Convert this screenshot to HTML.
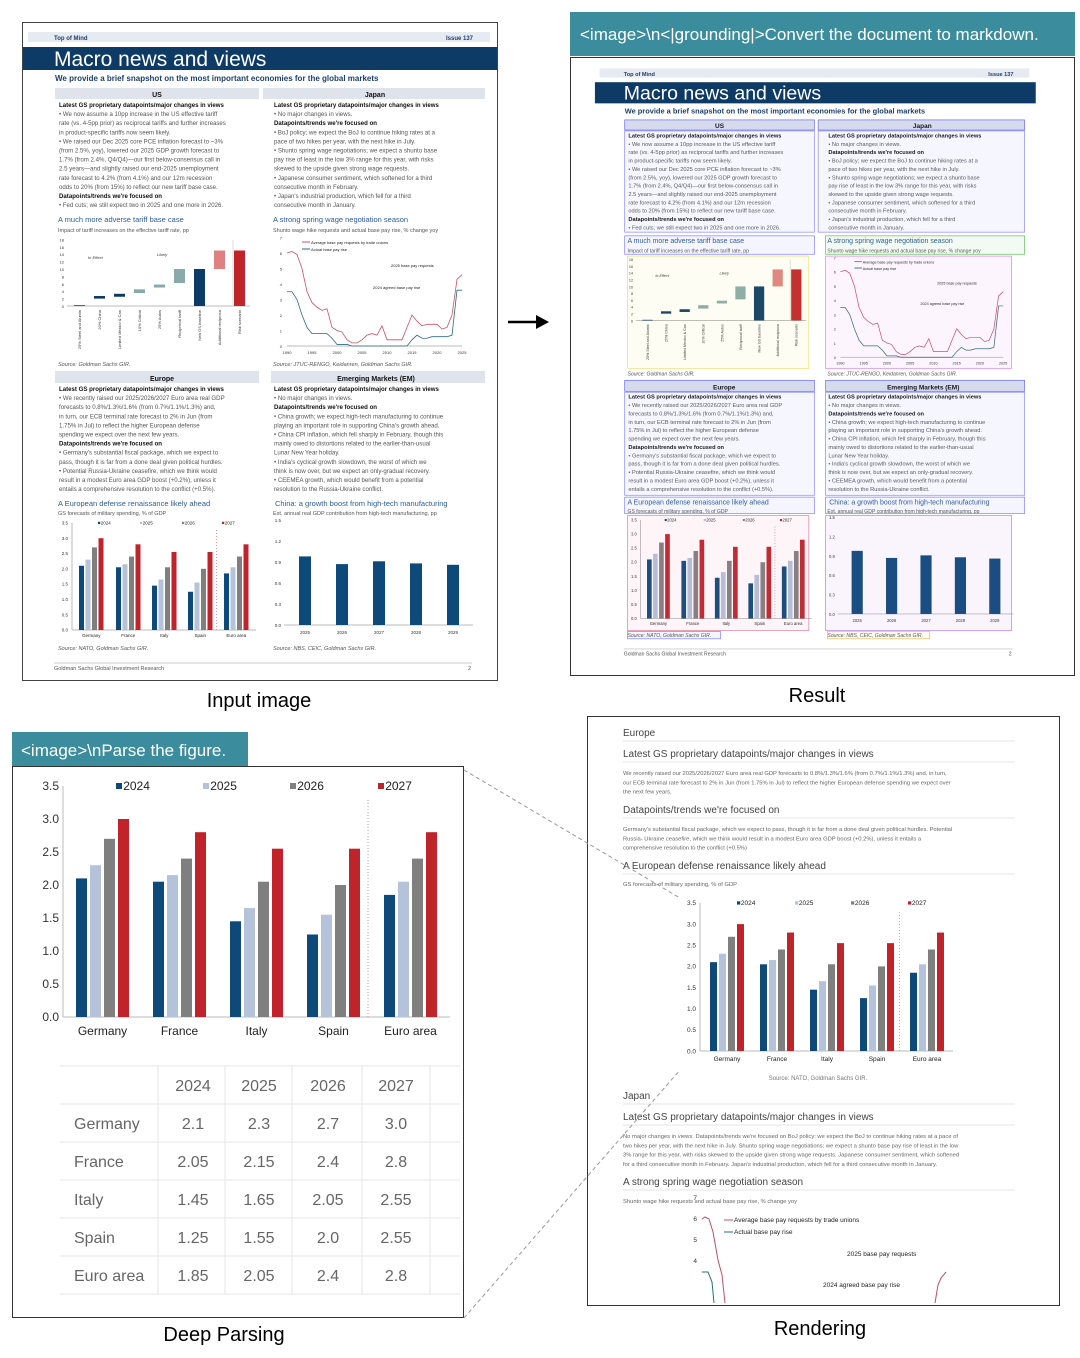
<!DOCTYPE html>
<html><head><meta charset="utf-8"><style>
html,body{margin:0;padding:0;background:#fff;width:1080px;height:1358px;overflow:hidden}
svg{display:block;font-family:"Liberation Sans",sans-serif}
</style></head><body>
<svg id="s" width="1080" height="1358" viewBox="0 0 1080 1358" xmlns="http://www.w3.org/2000/svg">
<g id="doc">
<rect x="22.5" y="22.5" width="475" height="658" fill="#fff" stroke="#444"/>
<rect x="28" y="32" width="462" height="10" fill="#e6eaf1"/>
<text x="54" y="40" font-size="6" font-weight="bold" fill="#1d3f6b">Top of Mind</text>
<text x="446" y="40" font-size="6" font-weight="bold" fill="#1d3f6b">Issue 137</text>
<rect x="23" y="47" width="474" height="23" fill="#0e3a66"/>
<text x="54" y="66" font-size="21" fill="#fff">Macro news and views</text>
<text x="55" y="81" font-size="8" font-weight="bold" fill="#1d3f6b">We provide a brief snapshot on the most important economies for the global markets</text>
<rect x="55" y="88" width="204" height="11" fill="#dfe4ec"/><rect x="263" y="88" width="222" height="11" fill="#dfe4ec"/>
<rect x="55" y="371" width="204" height="12" fill="#dfe4ec"/><rect x="271" y="371" width="214" height="12" fill="#dfe4ec"/>
<g font-size="7" font-weight="bold" fill="#111" text-anchor="middle"><text x="157" y="97">US</text><text x="375" y="97">Japan</text><text x="162" y="381">Europe</text><text x="376" y="381">Emerging Markets (EM)</text></g>
<g id="txt" font-size="6.1" fill="#555"></g>
<g font-size="7.5" fill="#2a5d9a"><text x="58" y="222">A much more adverse tariff base case</text><text x="273" y="222">A strong spring wage negotiation season</text><text x="58" y="506">A European defense renaissance likely ahead</text><text x="275" y="506">China: a growth boost from high-tech manufacturing</text></g>
<g font-size="5.5" fill="#555"><text x="58" y="232">Impact of tariff increases on the effective tariff rate, pp</text><text x="273" y="232">Shunto wage hike requests and actual base pay rise, % change yoy</text><text x="58" y="515">GS forecasts of military spending, % of GDP</text><text x="273" y="515">Est. annual real GDP contribution from high-tech manufacturing, pp</text>
<text x="58" y="366" font-style="italic">Source: Goldman Sachs GIR.</text><text x="273" y="366" font-style="italic">Source: JTUC-RENGO, Keidanren, Goldman Sachs GIR.</text>
<text x="58" y="650" font-style="italic">Source: NATO, Goldman Sachs GIR.</text><text x="273" y="650" font-style="italic">Source: NBS, CEIC, Goldman Sachs GIR.</text>
<text x="54" y="670">Goldman Sachs Global Investment Research</text><text x="468" y="670">2</text></g>
<line x1="54" y1="663" x2="472" y2="663" stroke="#ccc"/>
<g id="charts"></g>
</g>
<g id="clonehere"></g>
<rect x="570.5" y="57.5" width="504" height="618" fill="none" stroke="#333"/>
<rect x="570" y="12" width="505" height="44" fill="#3b8c9c"/>
<text x="580" y="40" font-size="17" fill="#fff">&lt;image&gt;\n&lt;|grounding|&gt;Convert the document to markdown.</text>
<line x1="508" y1="322" x2="540" y2="322" stroke="#000" stroke-width="2.5"/><path d="M536 315 L549 322 L536 329 Z" fill="#000"/>
<g font-size="20" fill="#000" text-anchor="middle"><text x="259" y="707">Input image</text><text x="817" y="702">Result</text><text x="224" y="1341">Deep Parsing</text><text x="820" y="1335">Rendering</text></g>
<rect x="12" y="732" width="236" height="34" fill="#3b8c9c"/>
<text x="21" y="756" font-size="17" fill="#fff">&lt;image&gt;\nParse the figure.</text>
<rect x="12.5" y="766.5" width="451" height="551" fill="none" stroke="#333"/>
<g id="big"></g>
<rect x="587.5" y="716.5" width="472" height="589" fill="#fff" stroke="#333"/>
<g id="rend"></g>
<g stroke="#999" stroke-dasharray="4,3" fill="none"><line x1="464" y1="770" x2="680" y2="898"/><line x1="464" y1="1318" x2="680" y2="1070"/></g>
</svg>
<script>
const NS="http://www.w3.org/2000/svg";
function el(p,t,a,txt){const e=document.createElementNS(NS,t);for(const k in a)e.setAttribute(k,a[k]);if(txt!=null)e.textContent=txt;p.appendChild(e);return e;}
const C=["#0d4a7a","#b4c3d9","#7f7f7f","#c1232b"];
const D=[[2.1,2.3,2.7,3.0],[2.05,2.15,2.4,2.8],[1.45,1.65,2.05,2.55],[1.25,1.55,2.0,2.55],[1.85,2.05,2.4,2.8]];
const N=["Germany","France","Italy","Spain","Euro area"];
function gchart(g,o){
 for(let i=0;i<=7;i++){const v=i*0.5,y=o.y0-v*o.unit;el(g,"text",{x:o.axL-4,y:y+o.fs*0.35,"font-size":o.fs,"text-anchor":"end",fill:"#333"},v.toFixed(1));}
 el(g,"line",{x1:o.axL,y1:o.y0,x2:o.axR,y2:o.y0,stroke:"#bbb"});
 el(g,"line",{x1:o.axL,y1:o.y0,x2:o.axL,y2:o.y0-3.5*o.unit,stroke:"#bbb"});
 const dv=(o.gx[3]+o.gx[4])/2+o.pitch*2-o.w/2;
 el(g,"line",{x1:dv,y1:o.y0,x2:dv,y2:o.y0-3.3*o.unit,stroke:"#d99","stroke-dasharray":"1,2"});
 D.forEach((r,i)=>{r.forEach((v,j)=>el(g,"rect",{x:o.gx[i]+j*o.pitch,y:o.y0-v*o.unit,width:o.w,height:v*o.unit,fill:C[j]}));
  el(g,"text",{x:o.gx[i]+1.5*o.pitch+o.w/2,y:o.y0+o.fs*1.5,"font-size":o.fs,"text-anchor":"middle",fill:"#222"},N[i]);});
 const ly=o.y0-3.5*o.unit+o.fs*0.35;
 ["2024","2025","2026","2027"].forEach((t,j)=>{const lx=o.lx[j];el(g,"rect",{x:lx,y:ly-o.fs*0.6,width:o.fs*0.5,height:o.fs*0.5,fill:C[j]});el(g,"text",{x:lx+o.fs*0.6,y:ly,"font-size":o.fs,fill:"#222"},t);});
}
const tx=document.getElementById("txt");
function lines(x,y,arr){arr.forEach((t,i)=>{const b=t.startsWith("*");el(tx,"text",{x:x,y:y+i*9.1,"font-weight":b?"bold":"normal",fill:b?"#111":"#555"},b?t.slice(1):t);});}
lines(59,107,["*Latest GS proprietary datapoints/major changes in views","•  We now assume a 10pp increase in the US effective tariff","    rate (vs. 4-5pp prior) as reciprocal tariffs and further increases","    in product-specific tariffs now seem likely.","•  We raised our Dec 2025 core PCE inflation forecast to ~3%","    (from 2.5%, yoy), lowered our 2025 GDP growth forecast to","    1.7% (from 2.4%, Q4/Q4)—our first below-consensus call in","    2.5 years—and slightly raised our end-2025 unemployment","    rate forecast to 4.2% (from 4.1%) and our 12m recession","    odds to 20% (from 15%) to reflect our new tariff base case.","*Datapoints/trends we're focused on","•  Fed cuts; we still expect two in 2025 and one more in 2026."]);
lines(274,107,["*Latest GS proprietary datapoints/major changes in views","•  No major changes in views.","*Datapoints/trends we're focused on","•  BoJ policy; we expect the BoJ to continue hiking rates at a","    pace of two hikes per year, with the next hike in July.","•  Shunto spring wage negotiations; we expect a shunto base","    pay rise of least in the low 3% range for this year, with risks","    skewed to the upside given strong wage requests.","•  Japanese consumer sentiment, which softened for a third","    consecutive month in February.","•  Japan's industrial production, which fell for a third","    consecutive month in January."]);
lines(59,391,["*Latest GS proprietary datapoints/major changes in views","•  We recently raised our 2025/2026/2027 Euro area real GDP","    forecasts to 0.8%/1.3%/1.6% (from 0.7%/1.1%/1.3%) and,","    in turn, our ECB terminal rate forecast to 2% in Jun (from","    1.75% in Jul) to reflect the higher European defense","    spending we expect over the next few years.","*Datapoints/trends we're focused on","•  Germany's substantial fiscal package, which we expect to","    pass, though it is far from a done deal given political hurdles.","•  Potential Russia-Ukraine ceasefire, which we think would","    result in a modest Euro area GDP boost (+0.2%), unless it","    entails a comprehensive resolution to the conflict (+0.5%)."]);
lines(274,391,["*Latest GS proprietary datapoints/major changes in views","•  No major changes in views.","*Datapoints/trends we're focused on","•  China growth; we expect high-tech manufacturing to continue","    playing an important role in supporting China's growth ahead.","•  China CPI inflation, which fell sharply in February, though this","    mainly owed to distortions related to the earlier-than-usual","    Lunar New Year holiday.","•  India's cyclical growth slowdown, the worst of which we","    think is now over, but we expect an only-gradual recovery.","•  CEEMEA growth, which would benefit from a potential","    resolution to the Russia-Ukraine conflict."]);
const ch=document.getElementById("charts");
{const y0=306,u=3.7;for(let v=0;v<=18;v+=2)el(ch,"text",{x:64,y:y0-v*u+2,"font-size":4,"text-anchor":"end",fill:"#333"},v);
el(ch,"line",{x1:67,y1:y0,x2:250,y2:y0,stroke:"#bbb"});el(ch,"line",{x1:233,y1:y0,x2:233,y2:240,stroke:"#ddd"});
const bs=[[0,0.2,"#0d3a66"],[2,2.7,"#0d3a66"],[2.5,3.3,"#0d3a66"],[3.5,4.5,"#8aa"],[5,5.8,"#8aa"],[6.2,10,"#8aa"],[0,10,"#0d3a66"],[10,15,"#e08080"],[0,15,"#c1232b"]];
bs.forEach((b,i)=>el(ch,"rect",{x:74+i*20,y:y0-b[1]*u,width:11,height:(b[1]-b[0])*u,fill:b[2]}));
el(ch,"text",{x:88,y:259,"font-size":4,"font-style":"italic",fill:"#333"},"In Effect");el(ch,"text",{x:157,y:256,"font-size":4,"font-style":"italic",fill:"#333"},"Likely");
["25% Steel and Aluminum","20% China","Limited Mexico & Canada tariff","10% Critical","25% Autos","Reciprocal tariff","New GS baseline","Additional reciprocal tariff","Risk scenario"].forEach((t,i)=>el(ch,"text",{transform:`translate(${81+i*20},310) rotate(-90)`,"font-size":4,"text-anchor":"end",fill:"#333"},t.slice(0,20)));}
{const x0=287,x1=462,y0=346,u=15.5;for(let v=0;v<=7;v++)el(ch,"text",{x:282,y:y0-v*u+2,"font-size":4,"text-anchor":"end",fill:"#333"},v);
el(ch,"line",{x1:x0,y1:y0,x2:x1,y2:y0,stroke:"#bbb"});
[1990,1995,2000,2005,2010,2015,2020,2025].forEach((yr,i)=>el(ch,"text",{x:x0+i*25,y:354,"font-size":4,"text-anchor":"middle",fill:"#333"},yr));
const R=[6,6.1,5.9,5,3.5,2.8,2.5,2.3,2.4,1.2,1,0.9,0.4,0.2,0.2,0.4,0.7,0.8,0.7,1.3,0.4,0.4,0.4,0.4,1.2,2,1.6,1.3,1.4,1.4,1.4,1.1,1.2,2,4.3,4.6];
const B=[3.5,3.5,3,2,1.2,0.8,0.8,0.8,0.8,0.5,0.1,0.1,0.1,0,0,0,0,0,0,0,0,0,0,0,0,0.4,0.7,0.5,0.5,0.6,0.6,0.6,0.6,0.7,3.6,3.6];
const pl=a=>a.map((v,i)=>(x0+i*5)+","+(y0-v*u)).join(" ");
el(ch,"polyline",{points:pl(R),fill:"none",stroke:"#d05060","stroke-width":0.8});el(ch,"polyline",{points:pl(B),fill:"none",stroke:"#2a6a80","stroke-width":0.8});
el(ch,"line",{x1:302,y1:242,x2:310,y2:242,stroke:"#d05060"});el(ch,"text",{x:311,y:244,"font-size":4,fill:"#222"},"Average base pay requests by trade unions");
el(ch,"line",{x1:302,y1:249,x2:310,y2:249,stroke:"#2a6a80"});el(ch,"text",{x:311,y:251,"font-size":4,fill:"#222"},"Actual base pay rise");
el(ch,"text",{x:391,y:267,"font-size":4,fill:"#222"},"2025 base pay requests");el(ch,"text",{x:373,y:289,"font-size":4,fill:"#222"},"2024 agreed base pay rise");}
gchart(ch,{y0:630,unit:30.6,gx:[79,116,152,188,224],pitch:6.5,w:5,fs:4.5,axL:72,axR:256,lx:[98,140,182,222]});
{const y0=625,u=70;[0,0.3,0.6,0.9,1.2,1.5].forEach(v=>el(ch,"text",{x:281,y:y0-v*u+2,"font-size":4.5,"text-anchor":"end",fill:"#333"},v.toFixed(1)));
el(ch,"line",{x1:284,y1:y0,x2:473,y2:y0,stroke:"#bbb"});
[0.98,0.87,0.91,0.88,0.86].forEach((v,i)=>{el(ch,"rect",{x:299+i*37,y:y0-v*u,width:12,height:v*u,fill:"#0d4a7a"});el(ch,"text",{x:305+i*37,y:634,"font-size":4.5,"text-anchor":"middle",fill:"#333"},2025+i);});}
const doc=document.getElementById("doc");const cl=doc.cloneNode(true);cl.removeAttribute("id");
cl.querySelectorAll("[id]").forEach(e=>e.removeAttribute("id"));
cl.setAttribute("transform","translate(594,59.2) scale(0.93,0.92) translate(-22,-22)");
cl.firstElementChild.setAttribute("stroke","none");
document.getElementById("clonehere").appendChild(cl);
const ch2=document.getElementById("clonehere");
function mb(x,y,w,h){return [594+(x-22)*0.93,59.2+(y-22)*0.92,w*0.93,h*0.92];}
[[55,88,204,11,"#6a6af0"],[263,88,222,11,"#6a6af0"],[55,100,204,110,"#8888ff"],[263,100,222,110,"#8888ff"],[55,214,204,20,"#8080ff"],[271,214,214,20,"#60c060"],[58,236,195,122,"#e8e070"],[271,236,200,122,"#e080e0"],[55,371,204,12,"#6a6af0"],[271,371,214,12,"#6a6af0"],[55,384,204,112,"#8888ff"],[271,384,214,112,"#8888ff"],[55,498,204,18,"#8080ff"],[271,498,214,18,"#8080ff"],[58,518,195,125,"#e080a0"],[271,518,200,125,"#c080e0"],[58,644,100,8,"#8080ff"],[273,644,110,8,"#e0c060"]].forEach(b=>{const m=mb(b[0],b[1],b[2],b[3]);el(ch2,"rect",{x:m[0],y:m[1],width:m[2],height:m[3],fill:b[4],"fill-opacity":0.08,stroke:b[4],"stroke-width":0.7});});
const big=document.getElementById("big");
gchart(big,{y0:1017,unit:66,gx:[76,153,230,307,384],pitch:14,w:11,fs:12,axL:63,axR:450,lx:[116,203,290,378]});
{const cols=[193,259,328,396],ys=[1085,1123,1161,1199,1237,1275];
for(let i=0;i<=6;i++)el(big,"line",{x1:60,y1:1066+i*38,x2:460,y2:1066+i*38,stroke:"#e6e6e6"});
[158,225,292,362,430].forEach(x=>el(big,"line",{x1:x,y1:1066,x2:x,y2:1294,stroke:"#e6e6e6"}));
["2024","2025","2026","2027"].forEach((t,j)=>el(big,"text",{x:cols[j],y:ys[0]+6,"font-size":16,"text-anchor":"middle",fill:"#666"},t));
D.forEach((r,i)=>{el(big,"text",{x:74,y:ys[i+1]+6,"font-size":16,fill:"#666"},N[i]);r.forEach((v,j)=>el(big,"text",{x:cols[j],y:ys[i+1]+6,"font-size":16,"text-anchor":"middle",fill:"#666"},String(v).length<3?v.toFixed(1):v));});}
const rd=document.getElementById("rend");
function hd(y,t,fs){el(rd,"text",{x:623,y:y,"font-size":fs,fill:"#444"},t);el(rd,"line",{x1:623,y1:y+5,x2:1015,y2:y+5,stroke:"#e6e6e6"});}
function para(y,arr){arr.forEach((t,i)=>el(rd,"text",{x:623,y:y+i*9.3,"font-size":5.8,fill:"#666"},t));}
hd(736,"Europe",10);hd(757,"Latest GS proprietary datapoints/major changes in views",10);
para(775,["We recently raised our 2025/2026/2027 Euro area real GDP forecasts to 0.8%/1.3%/1.6% (from 0.7%/1.1%/1.3%) and, in turn,","our ECB terminal rate forecast to 2% in Jun (from 1.75% in Jul) to reflect the higher European defense spending we expect over","the next few years."]);
hd(813,"Datapoints/trends we're focused on",10);
para(831,["Germany's substantial fiscal package, which we expect to pass, though it is far from a done deal given political hurdles. Potential","Russia- Ukraine ceasefire, which we think would result in a modest Euro area GDP boost (+0.2%), unless it entails a","comprehensive resolution to the conflict (+0.5%)"]);
hd(869,"A European defense renaissance likely ahead",10);
para(886,["GS forecasts of military spending, % of GDP"]);
gchart(rd,{y0:1051,unit:42.3,gx:[710,760,810,860,910],pitch:9,w:7,fs:6.5,axL:700,axR:953,lx:[737,795,851,908]});
el(rd,"text",{x:818,y:1080,"font-size":6,"text-anchor":"middle",fill:"#777"},"Source: NATO, Goldman Sachs GIR.");
hd(1099,"Japan",10);hd(1120,"Latest GS proprietary datapoints/major changes in views",10);
para(1138,["No major changes in views. Datapoints/trends we're focused on BoJ policy: we expect the BoJ to continue hiking rates at a pace of","two hikes per year, with the next hike in July. Shunto spring wage negotiations: we expect a shunto base pay rise of least in the low","3% range for this year, with risks skewed to the upside given strong wage requests. Japanese consumer sentiment, which softened","for a third consecutive month in February. Japan's industrial production, which fell for a third consecutive month in January."]);
hd(1185,"A strong spring wage negotiation season",10);
para(1203,["Shunto wage hike requests and actual base pay rise, % change yoy"]);
{[4,5,6,7].forEach(v=>el(rd,"text",{x:697,y:1345-v*21+2,"font-size":6.5,"text-anchor":"end",fill:"#333"},v));
el(rd,"polyline",{points:"702,1219 705,1217 709,1219 713,1232 718,1260 722,1275 725,1303",fill:"none",stroke:"#c05060","stroke-width":1});
el(rd,"polyline",{points:"702,1272 708,1272 712,1282 714,1303",fill:"none",stroke:"#2a6a80","stroke-width":1});
el(rd,"polyline",{points:"935,1303 938,1285 941,1278 946,1272",fill:"none",stroke:"#c05060","stroke-width":1});
el(rd,"line",{x1:724,y1:1220,x2:733,y2:1220,stroke:"#c05060"});el(rd,"text",{x:734,y:1222,"font-size":6.5,fill:"#222"},"Average base pay requests by trade unions");
el(rd,"line",{x1:724,y1:1232,x2:733,y2:1232,stroke:"#2a6a80"});el(rd,"text",{x:734,y:1234,"font-size":6.5,fill:"#222"},"Actual base pay rise");
el(rd,"text",{x:847,y:1256,"font-size":6.5,fill:"#222"},"2025 base pay requests");el(rd,"text",{x:823,y:1287,"font-size":6.5,fill:"#222"},"2024 agreed base pay rise");}
</script>
</body></html>
